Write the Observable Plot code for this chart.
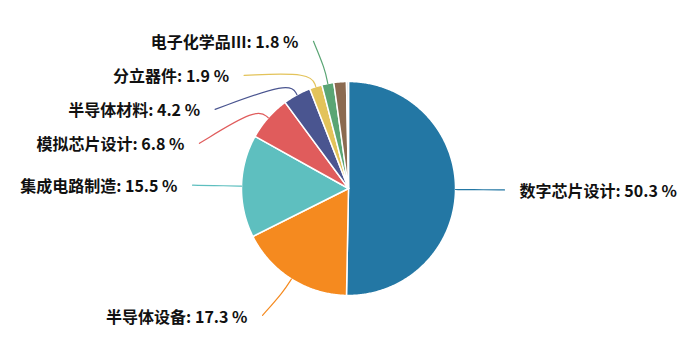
<!DOCTYPE html>
<html>
<head>
<meta charset="utf-8">
<script src="https://cdn.jsdelivr.net/npm/d3@7"></script>
<script src="https://cdn.jsdelivr.net/npm/@observablehq/plot@0.6"></script>
<style>
  html, body { margin: 0; padding: 0; background: #fff; }
  #chart { width: 700px; height: 337px; }
</style>
</head>
<body>
<div id="chart"></div>
<script>
// ---- data ----
const categories = ["数字芯片设计", "半导体设备", "集成电路制造", "模拟芯片设计", "半导体材料", "分立器件", "电子化学品III", "其他", "其余"];
const shares     = [50.3, 17.3, 15.5, 6.8, 4.2, 1.9, 1.8, 1.9, 0.3];
const labelShown = [true, true, true, true, true, true, true, false, false];
const palette    = ["#2377a4", "#f58a1f", "#5ebfbf", "#e05c5c", "#4a5590", "#e3c35a", "#5aa574", "#8b6a50", "#d4d4d4"];

// ---- layout constants ----
const W = 700, H = 337;
const cx = 348, cy = 188, r = 107;
const len1 = 15, labelR = r + 43, len2 = 6, textGap = 15, minGap = 34;

const rows = categories.map((name, i) => ({ name, value: shares[i], color: palette[i], shown: labelShown[i] }));
const arcs = d3.pie().sort(null).value(d => d.value).startAngle(0).endAngle(2 * Math.PI)(rows);

// slice outlines as polygons (center -> arc -> center)
const slicePts = [];
arcs.forEach(a => {
  const n = Math.max(2, Math.ceil((a.endAngle - a.startAngle) / 0.01) + 1);
  slicePts.push({ name: a.data.name, color: a.data.color, x: 0, y: 0 });
  for (let k = 0; k < n; k++) {
    const t = a.startAngle + (a.endAngle - a.startAngle) * k / (n - 1);
    slicePts.push({ name: a.data.name, color: a.data.color, x: Math.sin(t) * r, y: -Math.cos(t) * r });
  }
  slicePts.push({ name: a.data.name, color: a.data.color, x: 0, y: 0 });
});

// label layout (outer labels, pushed apart vertically per side)
const labels = arcs.filter(a => a.data.shown).map(a => {
  const mid = (a.startAngle + a.endAngle) / 2;
  const s = Math.sin(mid), c = Math.cos(mid);
  return {
    name: a.data.name, value: a.data.value, color: a.data.color,
    side: s >= 0 ? 1 : -1, s, c,
    ay: -c * labelR
  };
});
[1, -1].forEach(side => {
  const group = labels.filter(l => l.side === side).sort((a, b) => a.ay - b.ay);
  let prev = -Infinity;
  group.forEach(l => { l.ay = Math.max(l.ay, prev + minGap); prev = l.ay; });
});
labels.forEach(l => {
  const ax = Math.abs(l.ay) < labelR ? l.side * Math.sqrt(labelR * labelR - l.ay * l.ay) : l.s * labelR;
  l.ex = ax + l.side * len2;
  l.tx = l.ex + l.side * textGap;
  l.text = `${l.name}: ${l.value.toFixed(1)} %`;
});
const guidePts = [];
labels.forEach(l => {
  guidePts.push({ name: l.name, color: l.color, x: l.s * r, y: -l.c * r });
  guidePts.push({ name: l.name, color: l.color, x: l.s * (r + len1), y: -l.c * (r + len1) });
  guidePts.push({ name: l.name, color: l.color, x: l.ex, y: l.ay });
});

const font = "'Noto Sans CJK SC', 'Noto Sans', sans-serif";
const chart = Plot.plot({
  width: W, height: H,
  marginTop: 0, marginRight: 0, marginBottom: 0, marginLeft: 0,
  x: { domain: [-cx, W - cx], range: [0, W], axis: null },
  y: { domain: [-cy, H - cy], range: [0, H], axis: null },
  color: { type: "identity" },
  style: { background: "#fff", fontFamily: font },
  marks: [
    Plot.line(slicePts, { x: "x", y: "y", z: "name", fill: "color", stroke: "#fff", strokeWidth: 1.5, strokeLinejoin: "round", curve: "linear" }),
    Plot.line(guidePts, { x: "x", y: "y", z: "name", stroke: "color", strokeWidth: 1.2, curve: "basis" }),
    Plot.text(labels.filter(l => l.side === 1), { x: "tx", y: "ay", text: "text", textAnchor: "start", lineAnchor: "middle", dy: 2, fontSize: 16, fontWeight: "bold", fill: "#111" }),
    Plot.text(labels.filter(l => l.side === -1), { x: "tx", y: "ay", text: "text", textAnchor: "end", lineAnchor: "middle", dy: 2, fontSize: 16, fontWeight: "bold", fill: "#111" })
  ]
});
document.getElementById("chart").appendChild(chart);
</script>
</body>
</html>
